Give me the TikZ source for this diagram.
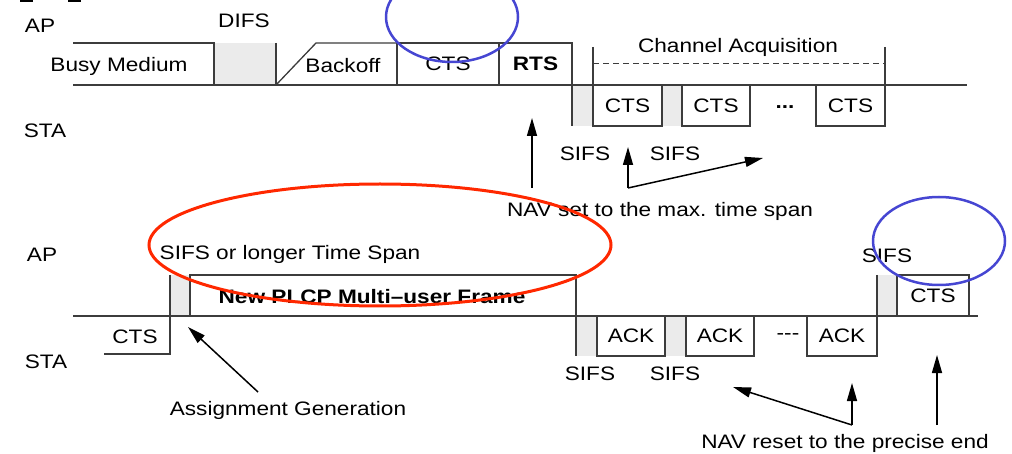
\documentclass[tikz,border=0pt]{standalone}
\usepackage{fontspec}
\setmainfont{Liberation Sans}[FakeStretch=1.16]
\usetikzlibrary{arrows.meta}
\definecolor{gapgray}{RGB}{235,235,235}
\definecolor{redell}{RGB}{255,40,0}
\definecolor{blueell}{RGB}{70,70,210}
\definecolor{linec}{RGB}{60,60,60}
\begin{document}
\begin{tikzpicture}[x=1pt,y=-1pt,
  font=\fontsize{19.5}{22}\selectfont,
  line width=1.3pt,
  txt/.style={inner sep=0pt,outer sep=0pt},
  framebox/.style={draw=linec,line width=1.3pt,inner sep=0pt,outer sep=0pt,anchor=north west},
  gapbox/.style={fill=gapgray,draw=none,inner sep=0pt,outer sep=0pt,anchor=north west},
  edge/.style={draw=linec,line width=1.3pt},
  navarrow/.style={draw=black,line width=1.5pt,-{Triangle[length=18pt,width=10pt]}},
  navline/.style={draw=black,line width=1.5pt},
  mark/.style={}]
\useasboundingbox (0,0) rectangle (1012,454);
\clip (0,0) rectangle (1012,454);
% small marks at the top
\fill[black] (20,0) rectangle (33,2.5);
\fill[black] (68,0) rectangle (81,2.5);

% ---------------- top diagram ----------------
\node[txt] (ap1) at (40,26) {AP};
\node[txt] (sta1) at (45,131) {STA};
\node[txt] (difs) at (244,21) {DIFS};

\node[gapbox,minimum width=62pt,minimum height=42pt] (difsgap) at (214,43) {};
\node[gapbox,minimum width=21pt,minimum height=41pt] (g1) at (572,85) {};
\node[gapbox,minimum width=20pt,minimum height=41pt] (g2) at (662,85) {};

\node[txt] (busy) at (119,66) {Busy Medium};
\draw[edge] (73,43) -- (214,43) -- (214,85);
\draw[edge] (276,43) -- (276,85);
\draw[edge] (276,85) -- (316,43) -- (397,43);
\node[txt] (backoff) at (343,66) {Backoff};
\node[framebox,minimum width=102pt,minimum height=42pt] (ctsA) at (397,43) {CTS};
\node[framebox,minimum width=73pt,minimum height=42pt] (rts) at (499,43) {\textbf{RTS}};
\draw[edge] (572,85) -- (572,126);
\draw[edge] (73,85) -- (967,85);

\node[framebox,minimum width=69pt,minimum height=41pt] (cts1) at (593,85) {CTS};
\node[framebox,minimum width=68pt,minimum height=41pt] (cts2) at (682,85) {CTS};
\node[txt] (dots1) at (785,107) {\textbf{...}};
\node[framebox,minimum width=69pt,minimum height=41pt] (cts3) at (816,85) {CTS};

\draw[edge] (593,47) -- (593,85);
\draw[edge] (885,47) -- (885,85);
\draw[edge,line width=1pt,dash pattern=on 6pt off 4pt] (593,64) -- (885,64);
\node[txt] (chacq) at (738,47) {Channel Acquisition};

\node[txt] (sifs1) at (585,154) {SIFS};
\node[txt] (sifs2) at (675,154) {SIFS};
\node[txt] (navset) at (660,211) {NAV set to the max. time span};

\coordinate (a1tail) at (532,188);
\coordinate (a1tip) at (532,118);
\draw[navarrow] (a1tail) -- (a1tip);
\coordinate (a2tail) at (628,188);
\coordinate (a2tip) at (628,147);
\coordinate (a2tipb) at (763,158);
\draw[navarrow] (a2tail) -- (a2tip);
\draw[navarrow] (a2tail) -- (a2tipb);

% ---------------- bottom diagram ----------------
\node[txt] (ap2) at (42,255) {AP};
\node[txt] (sta2) at (46,362) {STA};
\node[txt] (sifslong) at (290,254) {SIFS or longer Time Span};

\node[gapbox,minimum width=20pt,minimum height=41pt] (g3) at (170,275) {};
\node[gapbox,minimum width=21pt,minimum height=40pt] (g4) at (576,316) {};
\node[gapbox,minimum width=21pt,minimum height=40pt] (g5) at (665,316) {};
\node[gapbox,minimum width=20pt,minimum height=41pt] (g6) at (877,275) {};

\node[txt] (ctsB) at (135,337) {CTS};
\draw[edge] (104,354) -- (170,354) -- (170,275);
\node[framebox,minimum width=386pt,minimum height=41pt] (plcp) at (190,275) {};
\node[txt] (plcptxt) at (372,297) {\textbf{New PLCP Multi–user Frame}};
\draw[edge] (576,316) -- (576,356);

\node[framebox,minimum width=68pt,minimum height=40pt] (ack1) at (597,316) {ACK};
\node[framebox,minimum width=68pt,minimum height=40pt] (ack2) at (686,316) {ACK};
\node[txt] (dots2) at (788,337) {-{}-{}-};
\node[framebox,minimum width=70pt,minimum height=40pt] (ack3) at (807,316) {ACK};
\draw[edge] (877,275) -- (877,316);
\node[framebox,minimum width=72pt,minimum height=41pt] (ctsC) at (897,275) {CTS};
\draw[edge] (73,316) -- (978,316);

\node[txt] (sifs3) at (590,374) {SIFS};
\node[txt] (sifs4) at (675,374) {SIFS};
\node[txt] (sifs5) at (887,256) {SIFS};
\node[txt] (assign) at (288,410) {Assignment Generation};
\node[txt] (navreset) at (845,443) {NAV reset to the precise end};

\coordinate (a3tail) at (258,392);
\coordinate (a3tip) at (188,327);
\draw[navarrow] (a3tail) -- (a3tip);
\coordinate (a4tail) at (852,425);
\coordinate (a4tip) at (852,383);
\coordinate (a4tipb) at (733,387);
\draw[navarrow] (a4tail) -- (a4tip);
\draw[navarrow] (a4tail) -- (a4tipb);
\coordinate (a5tail) at (937,425);
\coordinate (a5tip) at (937,355);
\draw[navarrow] (a5tail) -- (a5tip);

% ---------------- highlight ellipses ----------------
\draw[redell,line width=3pt] (380,245) ellipse [x radius=231, y radius=61];
\draw[blueell,line width=2.5pt] (452,17) ellipse [x radius=66, y radius=45];
\draw[blueell,line width=2.5pt] (939,241) ellipse [x radius=66, y radius=44];
\end{tikzpicture}
\end{document}
